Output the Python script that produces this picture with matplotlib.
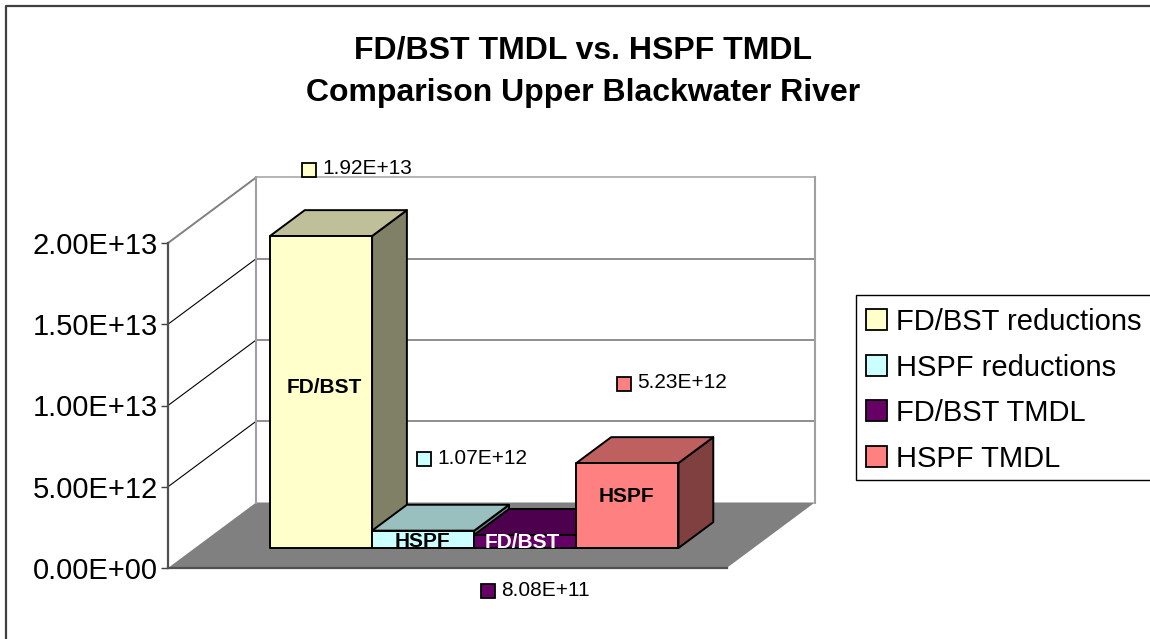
import matplotlib
matplotlib.use("Agg")
import matplotlib.pyplot as plt
from matplotlib.patches import Polygon, Patch, Rectangle
from matplotlib.lines import Line2D
from matplotlib.transforms import Affine2D
from matplotlib.colors import to_rgb

# ---- data ----
series = ["FD/BST reductions", "HSPF reductions", "FD/BST TMDL", "HSPF TMDL"]
values = [1.92e13, 1.07e12, 8.08e11, 5.23e12]
value_labels = ["1.92E+13", "1.07E+12", "8.08E+11", "5.23E+12"]
bar_labels = ["FD/BST", "HSPF", "FD/BST", "HSPF"]
colors = ["#FFFFCC", "#CCFFFF", "#660066", "#FF8080"]
bar_label_colors = ["black", "black", "white", "black"]
y_ticks = [0, 5e12, 1e13, 1.5e13, 2e13]
y_tick_labels = ["0.00E+00", "5.00E+12", "1.00E+13", "1.50E+13", "2.00E+13"]
title_lines = ["FD/BST TMDL vs. HSPF TMDL", "Comparison Upper Blackwater River"]

# ---- layout (pixels of the 1150x639 canvas) ----
W, H = 1150, 639
plt.rcParams["font.family"] = ["Liberation Sans", "DejaVu Sans"]
fig = plt.figure(figsize=(W / 100, H / 100), dpi=100, facecolor="white")
px = Affine2D().scale(1 / W, -1 / H).translate(0, 1) + fig.transFigure

L, R, B, T = 168, 726.7, 568, 243
ax = fig.add_axes([L / W, 1 - B / H, (R - L) / W, (B - T) / H])
ax.patch.set_visible(False)
BAR_PX = 102.0
GAP = 75 / BAR_PX
ax.set_xlim(-GAP, len(values) + GAP)
ax.set_ylim(0, 2e13)

# oblique projection: depth d in 0..1 shifts a point back along the floor
DX = 88 / BAR_PX
DY = 65.5 / (B - T) * 2e13
def P(x, v, d=0.0):
    return (x + d * DX, v + d * DY)

x0, x1 = ax.get_xlim()
ymax = ax.get_ylim()[1]

def poly(points, **kw):
    p = Polygon(points, closed=True, clip_on=False, **kw)
    ax.add_patch(p)
    return p

# floor
poly([P(x0, 0), P(x1, 0), P(x1, 0, 1), P(x0, 0, 1)], facecolor="#808080", edgecolor="none", zorder=1)

# grid on side wall and back wall
for v in y_ticks[1:]:
    top = v == y_ticks[-1]
    c_side = "#808080" if top else "black"
    c_back = "#A0A0A0" if top else "#707070"
    lw_side = 1.4 if top else 0.8
    ax.add_line(Line2D(*zip(P(x0, v), P(x0, v, 1)), color=c_side, lw=lw_side, clip_on=False, zorder=2))
    ax.add_line(Line2D(*zip(P(x0, v, 1), P(x1, v, 1)), color=c_back, lw=1.1, clip_on=False, zorder=2))
for xx in (x0, x1):
    ax.add_line(Line2D(*zip(P(xx, 0, 1), P(xx, ymax, 1)), color="#A0A0A0", lw=1.5, clip_on=False, zorder=2))

# bars
D0, D1 = 0.305, 0.70
fronts = []
for i, (v, c) in enumerate(zip(values, colors)):
    rgb = to_rgb(c)
    shade = lambda f: tuple(f * k for k in rgb)
    kw = dict(edgecolor="black", linewidth=1.4, joinstyle="round", zorder=3 + i)
    poly([P(i + 1, 0, D0), P(i + 1, 0, D1), P(i + 1, v, D1), P(i + 1, v, D0)], facecolor=shade(0.5), **kw)
    poly([P(i, v, D0), P(i + 1, v, D0), P(i + 1, v, D1), P(i, v, D1)], facecolor=shade(0.75), **kw)
    fronts.append(poly([P(i, 0, D0), P(i + 1, 0, D0), P(i + 1, v, D0), P(i, v, D0)], facecolor=c, **kw))

# labels on the bars (nudges in pixels)
label_nudge = [(3, 0), (-1, -1), (-3, -2), (-1, 0)]
label_anchor = [0.515, None, None, 0.61]
for i, (v, s, c) in enumerate(zip(values, bar_labels, bar_label_colors)):
    x, base = P(i + 0.5, 0, D0)
    y = base + (v * label_anchor[i] if label_anchor[i] else 4.5e11)
    nx, ny = label_nudge[i]
    t = ax.text(x, y, s, ha="center", va="center", fontsize=15, fontweight="bold", color=c, zorder=20,
                transform=ax.transData + Affine2D().translate(nx, ny))
    t.set_clip_path(fronts[i])
    t.set_clip_on(True)

# value axis
for s in ("top", "right"):
    ax.spines[s].set_visible(False)
for s in ("left", "bottom"):
    ax.spines[s].set_color("#505050")
    ax.spines[s].set_linewidth(1.6)
    ax.spines[s].set_zorder(2.5)
ax.set_xticks([])
ax.set_yticks(y_ticks)
ax.set_yticklabels(y_tick_labels)
ax.tick_params(axis="y", length=5, width=1, color="#404040", labelsize=21, pad=2.5)

# floating data labels: marker key + text
key_pos = [(302, 163), (417, 452), (481, 584), (617, 377)]
for (kx, ky), s, c in zip(key_pos, value_labels, colors):
    fig.add_artist(Rectangle((kx, ky), 14, 14, transform=px, facecolor=c,
                             edgecolor="black", linewidth=1.3, zorder=30))
    fig.text(kx + 20, ky + 6, s, transform=px, fontsize=15, ha="left", va="center",
             color="black", zorder=30)

# outer chart frame (open on the right and bottom)
fig.add_artist(Line2D([5.5, 5.5, W], [H, 5.5, 5.5], transform=px, color="#404040", lw=1.6))

# title
for line, yy in zip(title_lines, (50.5, 92.5)):
    fig.text(583, yy, line, transform=px, ha="center", va="center", fontsize=23,
             fontweight="bold", color="black")

# legend: the frame runs off the right edge of the canvas
fig.add_artist(Rectangle((856, 295), 310, 185, transform=px, facecolor="white",
                         edgecolor="black", linewidth=1.0, zorder=5))
handles = [Patch(facecolor=c, edgecolor="black", linewidth=1.3) for c in colors]
leg = fig.legend(handles, series, loc="upper left", bbox_to_anchor=(866 / W, 1 - 308 / H),
                 bbox_transform=fig.transFigure, fontsize=21, frameon=False, borderaxespad=0,
                 borderpad=0, handlelength=0.72, handleheight=0.72, handletextpad=0.32,
                 labelspacing=0.6)
leg.set_zorder(6)

fig.savefig("out.png", dpi=100, facecolor="white")
